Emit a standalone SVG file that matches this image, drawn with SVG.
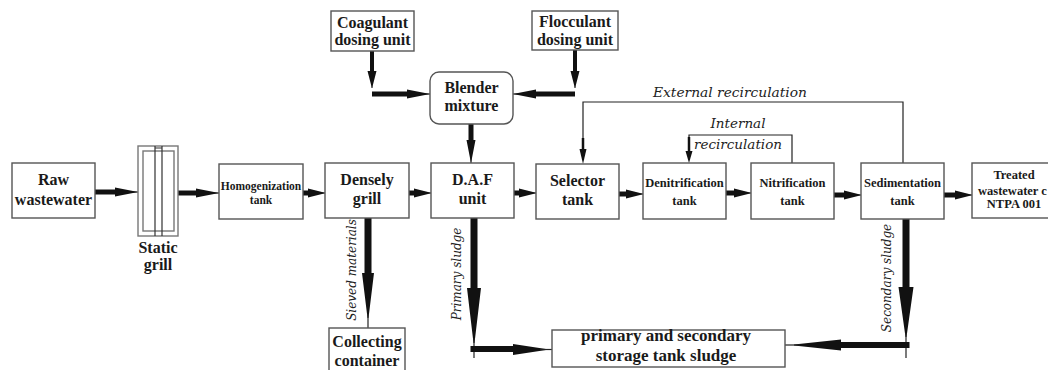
<svg xmlns="http://www.w3.org/2000/svg" width="1048" height="370" viewBox="0 0 1048 370">
<style>
.box{fill:#fff;stroke:#555;stroke-width:1.4}
.g{fill:none;stroke:#777;stroke-width:1.4}
.b{font-weight:bold;font-size:16px;text-anchor:middle;fill:#1a1a1a}
.m{font-weight:bold;font-size:12.5px;text-anchor:middle;fill:#1a1a1a}
.t{font-weight:bold;font-size:11.5px;text-anchor:middle;fill:#1a1a1a}
.i{font-style:italic;font-size:12px;fill:#222}
.sh{fill:none;stroke:#111;stroke-width:5}
.th{fill:none;stroke:#222;stroke-width:1.2}
.fl{fill:#111;stroke:none}
</style>
<defs>
<marker id="ah" markerUnits="userSpaceOnUse" viewBox="-2 -7 22 14" markerWidth="22" markerHeight="14" refX="0" refY="0" orient="auto">
<path d="M-1,-4.5 L13,-0.9 L16,-0.5 L16,0.5 L13,0.9 L-1,4.5z" fill="#111"/>
</marker>
<marker id="ahl" markerUnits="userSpaceOnUse" viewBox="-2 -7 28 14" markerWidth="28" markerHeight="14" refX="0" refY="0" orient="auto">
<path d="M-1,-4.5 L17,-1 L22,-0.5 L22,0.5 L17,1 L-1,4.5z" fill="#111"/>
</marker>
</defs>

<g id="connectors">
<path class="sh" d="M95,192 H116" marker-end="url(#ahl)"/>
<path class="sh" d="M178,193 H197" marker-end="url(#ahl)"/>
<path class="sh" d="M303,193 H309" marker-end="url(#ah)"/>
<path class="sh" d="M409,193 H415" marker-end="url(#ah)"/>
<path class="sh" d="M514,193 H520" marker-end="url(#ah)"/>
<path class="sh" d="M619,194 H627" marker-end="url(#ah)"/>
<path class="sh" d="M726,193 H735" marker-end="url(#ah)"/>
<path class="sh" d="M834,195 H845" marker-end="url(#ah)"/>
<path class="sh" d="M944,195 H956" marker-end="url(#ah)"/>
<path class="sh" d="M372,51 V72" style="stroke-width:4" marker-end="url(#ah)"/>
<path class="sh" d="M372,94 H408" marker-end="url(#ahl)"/>
<path class="sh" d="M575,50 V72" style="stroke-width:4" marker-end="url(#ah)"/>
<path class="sh" d="M575,94 H535" marker-end="url(#ahl)"/>
<path class="sh" d="M471,124 V141" marker-end="url(#ahl)"/>
<path class="th" d="M792,163 V135 H689 V152"/>
<path class="sh" d="M689,137 V152" style="stroke-width:2.5"/>
<polygon class="fl" points="685.5,151 692.5,151 689,163"/>
<path class="th" d="M903,163 V102 H583 V150"/>
<path class="sh" d="M583,138 V150" style="stroke-width:2.5"/>
<polygon class="fl" points="579.5,149 586.5,149 583,164"/>
<path class="fl" d="M364.5,218 H371.5 V273 H374 L368.5,318 L367.5,318 L362,273 H364.5 Z"/>
<path class="th" d="M368,314 V328"/>
<path class="fl" d="M470.5,218 H477.5 V288 H481 L474.5,343 L473.5,343 L467,288 H470.5 Z"/>
<path class="th" d="M474,338 V358"/>
<path class="fl" d="M470.5,346 H513 V344 L546,349 V350 L513,355 V352 H470.5 Z"/>
<path class="th" d="M540,349.5 H552"/>
<path class="fl" d="M902.5,218 H909.5 V287 H913.5 L906.5,337 L905.5,337 L898.5,287 H902.5 Z"/>
<path class="th" d="M906,333 V358"/>
<path class="fl" d="M909.5,342 H841 V339.5 L794,344.5 V345.5 L841,350.5 V348 H909.5 Z"/>
<path class="th" d="M800,345 H781"/>
</g>

<g font-family="'Liberation Serif','Times New Roman',Tinos,'DejaVu Serif',serif">
<g id="raw"><rect class="box" x="12" y="163" width="83" height="55"/><text class="b" x="53.5" y="185">Raw</text><text class="b" x="53.5" y="205">wastewater</text></g>
<g id="static-grill">
<rect class="g" x="138" y="146" width="40" height="90"/>
<rect class="g" x="143" y="151" width="31" height="80"/>
<path d="M155,146 V236 M162,146 V236 M155,148 H162" fill="none" stroke="#333" stroke-width="1.2"/>
<text class="b" x="158" y="253">Static</text><text class="b" x="158" y="270">grill</text></g>
<g id="homog"><rect class="box" x="219" y="164" width="84" height="55"/><text class="t" x="261" y="190">Homogenization</text><text class="t" x="261" y="204">tank</text></g>
<g id="densely"><rect class="box" x="325" y="163" width="84" height="55"/><text class="b" x="367" y="185">Densely</text><text class="b" x="367" y="204">grill</text></g>
<g id="daf"><rect class="box" x="431" y="163" width="83" height="55"/><text class="b" x="472.5" y="185">D.A.F</text><text class="b" x="472.5" y="204">unit</text></g>
<g id="selector"><rect class="box" x="536" y="164" width="83" height="55"/><text class="b" x="577.5" y="186">Selector</text><text class="b" x="577.5" y="205">tank</text></g>
<g id="denitr"><rect class="box" x="643" y="163" width="83" height="56"/><text class="m" x="684.5" y="187">Denitrification</text><text class="m" x="684.5" y="205">tank</text></g>
<g id="nitr"><rect class="box" x="751" y="163" width="83" height="56"/><text class="m" x="792.5" y="187">Nitrification</text><text class="m" x="792.5" y="205">tank</text></g>
<g id="sed"><rect class="box" x="861" y="163" width="83" height="56"/><text class="m" x="902.5" y="187">Sedimentation</text><text class="m" x="902.5" y="205">tank</text></g>
<g id="treated"><rect class="box" x="972" y="163" width="90" height="55"/><text class="m" x="1014" y="179">Treated</text><text class="m" x="978" y="195" style="text-anchor:start">wastewater c</text><text class="m" x="1014" y="208">NTPA 001</text></g>
<g id="coagulant"><rect class="box" x="331" y="11" width="83" height="40"/><text class="b" x="372.5" y="28">Coagulant</text><text class="b" x="372.5" y="45">dosing unit</text></g>
<g id="flocculant"><rect class="box" x="532" y="11" width="86" height="39"/><text class="b" x="575" y="27">Flocculant</text><text class="b" x="575" y="45">dosing unit</text></g>
<g id="blender"><rect class="box" x="430" y="72" width="83" height="52" rx="9"/><text class="b" x="471.5" y="93">Blender</text><text class="b" x="471.5" y="111">mixture</text></g>
<g id="collecting"><rect class="box" x="329" y="328" width="76" height="45"/><text class="b" x="367" y="347">Collecting</text><text class="b" x="367" y="366">container</text></g>
<g id="storage"><rect class="box" x="552" y="330" width="233" height="37"/><text class="b" x="666" y="341" style="font-size:17px">primary and secondary</text><text class="b" x="666" y="361" style="font-size:17px">storage tank sludge</text></g>
</g>

<g id="labels" font-family="'DejaVu Serif','Liberation Serif',serif">
<text class="i" x="653" y="97" style="font-size:13.8px">External recirculation</text>
<text class="i" x="738" y="128" style="text-anchor:middle;font-size:13.5px">Internal</text>
<text class="i" x="738" y="149" style="text-anchor:middle;font-size:13.5px">recirculation</text>
<text class="i" x="356" y="270" transform="rotate(-90 356 270)" style="text-anchor:middle">Sieved materials</text>
<text class="i" x="461" y="274" transform="rotate(-90 461 274)" style="text-anchor:middle">Primary sludge</text>
<text class="i" x="891" y="278" transform="rotate(-90 891 278)" style="text-anchor:middle">Secondary sludge</text>
</g>
</svg>
